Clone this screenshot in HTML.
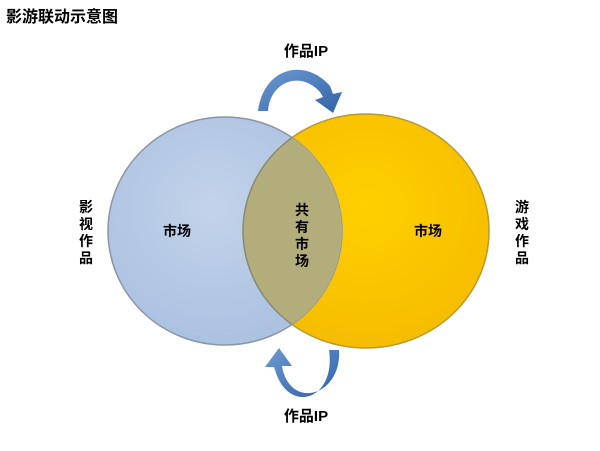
<!DOCTYPE html>
<html><head><meta charset="utf-8"><style>
body{margin:0;background:#fff}
svg text{font-family:"Liberation Sans","Noto Sans CJK SC",sans-serif;font-weight:bold;fill:#000}
</style></head><body>
<svg width="600" height="446" viewBox="0 0 600 446" xmlns="http://www.w3.org/2000/svg">
<defs>
<radialGradient id="gb" cx="45%" cy="40%" r="65%"><stop offset="0" stop-color="#c3d3ea"/><stop offset="1" stop-color="#a9c0e0"/></radialGradient>
<radialGradient id="gy" cx="50%" cy="40%" r="65%"><stop offset="0" stop-color="#ffd000"/><stop offset="1" stop-color="#f5bb00"/></radialGradient>
<linearGradient id="ga" x1="0" y1="0" x2="1" y2="1"><stop offset="0" stop-color="#6e9ad0"/><stop offset="1" stop-color="#2f62a8"/></linearGradient>
<clipPath id="cl"><ellipse cx="225" cy="231" rx="117" ry="114"/></clipPath>
</defs>
<text x="6" y="22" font-size="16">影游联动示意图</text>
<ellipse cx="366" cy="231" rx="123" ry="117" fill="url(#gy)" stroke="#b89a30" stroke-width="1.5"/>
<ellipse cx="225" cy="231" rx="117" ry="114" fill="url(#gb)" stroke="#8a96a8" stroke-width="1.5"/>
<ellipse cx="366" cy="231" rx="123" ry="117" fill="#b3ad7c" clip-path="url(#cl)" stroke="#8a8a70" stroke-width="1.5"/>
<!-- top arrow -->
<path d="M268 111 C270 82 300 70 320 92 L323 97 L315 100 L333 113 L342 92 L333 94 L330 86 C306 58 264 66 258 111 Z" fill="url(#ga)"/>
<!-- bottom arrow -->
<path d="M339 350 C342 394 294 410 283 371 L282 366 L292 366 L279 348 L265 367 L274 367 L276 373 C290 414 336 400 329 350 Z" fill="url(#ga)"/>
<text x="306" y="56" font-size="15" text-anchor="middle">作品IP</text>
<text x="306" y="421" font-size="15" text-anchor="middle">作品IP</text>
<text x="177" y="236" font-size="14" text-anchor="middle">市场</text>
<text x="428" y="236" font-size="14" text-anchor="middle">市场</text>
<text x="302" y="215" font-size="14" text-anchor="middle">共</text>
<text x="302" y="232" font-size="14" text-anchor="middle">有</text>
<text x="302" y="249" font-size="14" text-anchor="middle">市</text>
<text x="302" y="266" font-size="14" text-anchor="middle">场</text>
<text x="86" y="212" font-size="14" text-anchor="middle">影</text>
<text x="86" y="229" font-size="14" text-anchor="middle">视</text>
<text x="86" y="246" font-size="14" text-anchor="middle">作</text>
<text x="86" y="263" font-size="14" text-anchor="middle">品</text>
<text x="522" y="212" font-size="14" text-anchor="middle">游</text>
<text x="522" y="229" font-size="14" text-anchor="middle">戏</text>
<text x="522" y="246" font-size="14" text-anchor="middle">作</text>
<text x="522" y="263" font-size="14" text-anchor="middle">品</text>
</svg>
</body></html>
